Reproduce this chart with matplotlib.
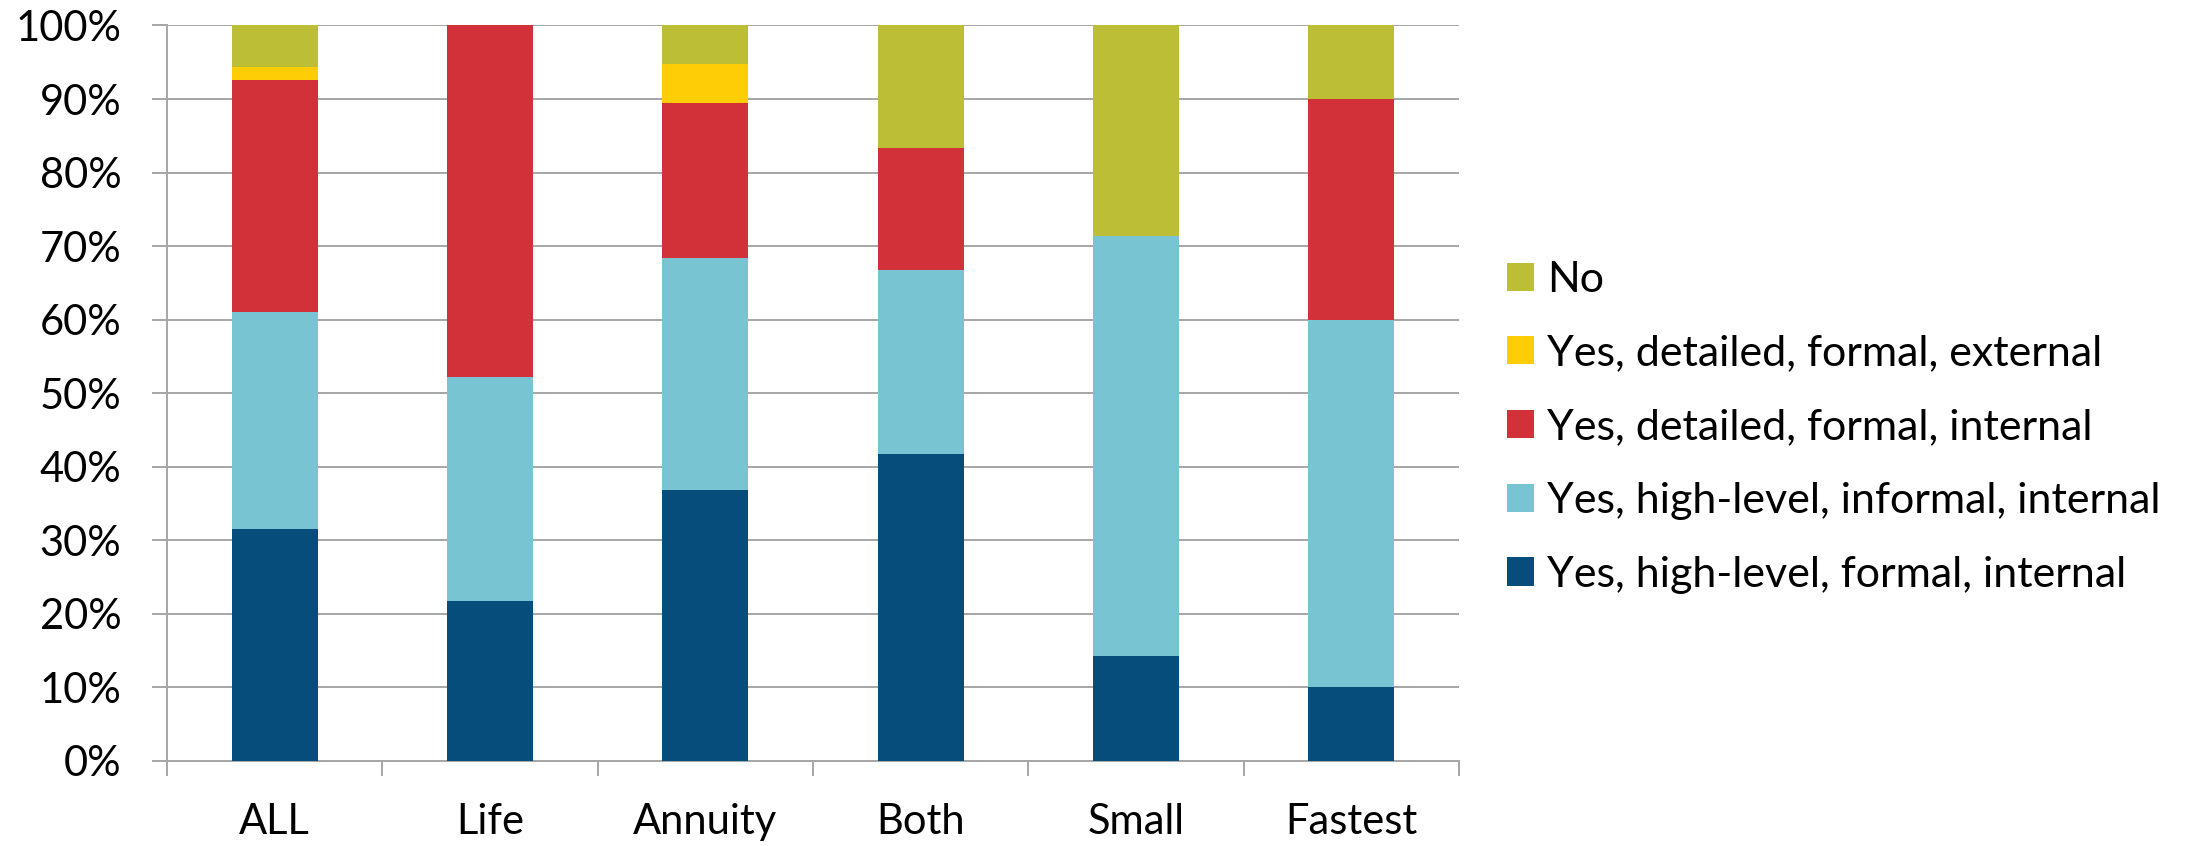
import numpy as np
import matplotlib
matplotlib.use("Agg")
import matplotlib.pyplot as plt
import matplotlib.ticker as ticker

# categories and stacked shares (percent), bottom to top
groups = ["ALL", "Life", "Annuity", "Both", "Small", "Fastest"]
hl_formal_internal = [31.5, 21.7, 36.8, 41.7, 14.3, 10.0]
hl_informal_internal = [29.6, 30.5, 31.6, 25.0, 57.1, 50.0]
det_formal_internal = [31.5, 47.8, 21.1, 16.6, 0.0, 30.0]
det_formal_external = [1.8, 0.0, 5.3, 0.0, 0.0, 0.0]
no_answer = [5.6, 0.0, 5.2, 16.7, 28.6, 10.0]

series = [
    ("Yes, high-level, formal, internal", hl_formal_internal, "#064d7b"),
    ("Yes, high-level, informal, internal", hl_informal_internal, "#78c4d3"),
    ("Yes, detailed, formal, internal", det_formal_internal, "#d33139"),
    ("Yes, detailed, formal, external", det_formal_external, "#ffcd05"),
    ("No", no_answer, "#bcbf35"),
]

plt.rcParams["font.family"] = ["Lato", "DejaVu Sans"]
grid_col = "#a6a6a6"

fig = plt.figure(figsize=(22.03, 8.46), dpi=100)
ax = fig.add_axes([0.0758, 0.1005, 0.5865, 0.8694])

x = np.arange(len(groups))
bottom = np.zeros(len(groups))
handles = []
for label, vals, col in series:
    b = ax.bar(x, vals, width=0.4, bottom=bottom, color=col, label=label,
               linewidth=0, zorder=3)
    handles.append(b)
    bottom += np.array(vals)

ax.set_xlim(-0.5, len(groups) - 0.5)
ax.set_ylim(0, 100)

# y axis: gridlines with short outward ticks
ax.set_yticks(np.arange(0, 101, 10))
ax.yaxis.set_major_formatter(ticker.FuncFormatter(lambda v, _: f"{v:.0f}%"))
ax.yaxis.grid(True, color=grid_col, linewidth=1.4, zorder=0)
ax.tick_params(axis="y", length=10.8, width=1.4, color=grid_col, pad=22,
               labelsize=30)

# x axis: labels at centres, tick marks at boundaries
ax.set_xticks(x)
ax.set_xticklabels(groups)
ax.set_xticks(np.arange(-0.5, len(groups), 1.0), minor=True)
ax.tick_params(axis="x", which="major", length=0, pad=30, labelsize=30)
ax.tick_params(axis="x", which="minor", length=10.8, width=1.4, color=grid_col)

for s in ["top", "right"]:
    ax.spines[s].set_visible(False)
for s in ["left", "bottom"]:
    ax.spines[s].set_color(grid_col)
    ax.spines[s].set_linewidth(1.4)

leg = fig.legend(handles[::-1], [s[0] for s in series][::-1],
                 loc="center left", bbox_to_anchor=(0.684, 0.495),
                 frameon=False, fontsize=31, handlelength=0.63, handleheight=0.63,
                 handletextpad=0.3, labelspacing=0.83, borderpad=0,
                 borderaxespad=0)

fig.savefig("out.png", dpi=100)
